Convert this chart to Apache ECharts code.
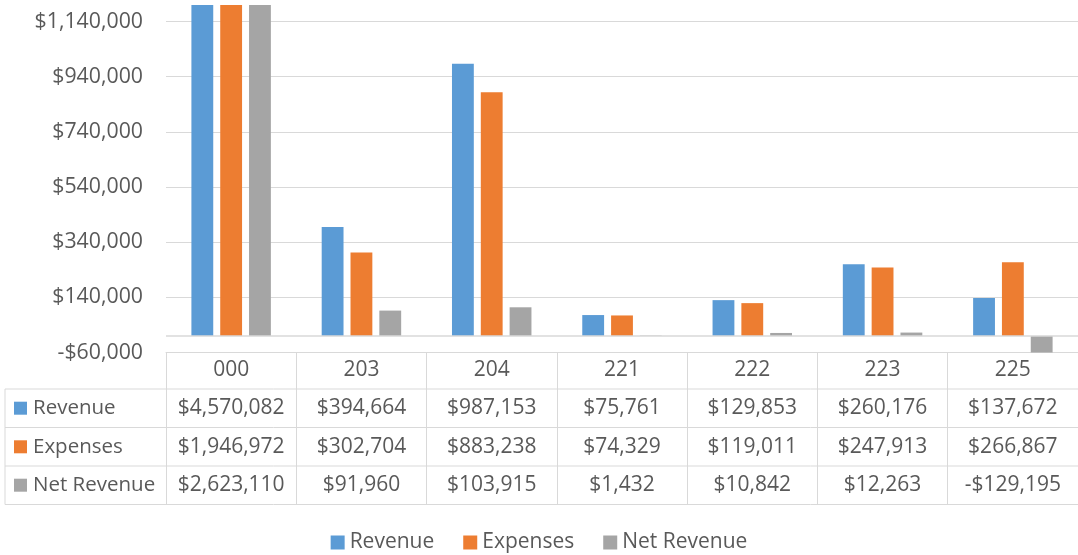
<!DOCTYPE html>
<html><head><meta charset="utf-8">
<script src="https://cdn.jsdelivr.net/npm/echarts@6/dist/echarts.min.js"></script>
<style>html,body{margin:0;padding:0;background:#fff}#c{width:1078px;height:555px}</style>
</head><body><div id="c"></div>
<script>
const categories = ['000','203','204','221','222','223','225'];
const seriesNames = ['Revenue','Expenses','Net Revenue'];
const revenue = [4570082,394664,987153,75761,129853,260176,137672];
const expenses = [1946972,302704,883238,74329,119011,247913,266867];
const netRevenue = [2623110,91960,103915,1432,10842,12263,-129195];
const seriesData = [revenue, expenses, netRevenue];
const colors = ['#5B9BD5','#ED7D31','#A5A5A5'];
const yMin = -60000, yMax = 1200000, yInterval = 200000;

function money(v){ const s = '$' + Math.abs(v).toLocaleString('en-US'); return v < 0 ? '-' + s : s; }

const FONT = 'Open Sans';
const TXT = '#595959';
const LINE = '#d9d9d9';
const NUM_SIZE = 21, TXT_SIZE = 20.5;
const GL = 166, GT = 5, GW = 917, GH = 347.5;
const tableTop = GT + GH;
const rowLines = [389, 427.5, 466, 504.5];
const rowCenters = [408.2, 446.8, 485.2];

const chart = echarts.init(document.getElementById('c'));

const xAxes = [{
  type: 'category', data: categories, position: 'bottom', gridIndex: 0,
  axisLine: { onZero: false, lineStyle: { color: LINE, width: 1 } },
  axisTick: { show: true, length: rowLines[3] - tableTop, lineStyle: { color: LINE } },
  axisLabel: { interval: 0, margin: 18, verticalAlign: 'middle', color: TXT, fontSize: NUM_SIZE, fontFamily: FONT }
}];
seriesData.forEach((arr, k) => {
  xAxes.push({
    type: 'category', data: categories, position: 'bottom', gridIndex: 0, offset: 0,
    axisLine: { show: false, onZero: false }, axisTick: { show: false }, splitLine: { show: false },
    axisLabel: { interval: 0, margin: rowCenters[k] - tableTop, verticalAlign: 'middle', color: TXT, fontSize: NUM_SIZE, fontFamily: FONT,
      formatter: (v, i) => money(arr[i]) }
  });
});

const graphics = [];
rowLines.forEach(y => graphics.push({ type: 'line', shape: { x1: 5, y1: y, x2: GL + GW, y2: y }, style: { stroke: LINE, lineWidth: 1 }, silent: true }));
graphics.push({ type: 'line', shape: { x1: 5, y1: rowLines[0], x2: 5, y2: rowLines[3] }, style: { stroke: LINE, lineWidth: 1 }, silent: true });
seriesNames.forEach((n, k) => {
  graphics.push({ type: 'rect', shape: { x: 14, y: rowCenters[k] - 6.5, width: 13, height: 13 }, style: { fill: colors[k] }, silent: true });
  graphics.push({ type: 'text', x: 33, y: rowCenters[k], style: { text: n, fill: TXT, font: TXT_SIZE + 'px "' + FONT + '"', textVerticalAlign: 'middle', verticalAlign: 'middle' }, silent: true });
});

const splitColors = [];
for (let i = 0; i < 7; i++) splitColors.push(LINE);
splitColors.push('rgba(0,0,0,0)');

const option = {
  animation: false,
  textStyle: { fontFamily: FONT },
  color: colors,
  grid: { left: GL, top: GT, width: GW, height: GH, containLabel: false },
  legend: {
    data: seriesNames, left: 'center', top: 527, icon: 'rect', itemWidth: 14, itemHeight: 14, itemGap: 29,
    textStyle: { color: TXT, fontSize: 21, fontFamily: FONT }
  },
  xAxis: xAxes,
  yAxis: {
    type: 'value', min: yMin, max: yMax, interval: yInterval,
    axisLine: { show: false }, axisTick: { show: false },
    splitLine: { show: true, lineStyle: { color: splitColors, width: 1 } },
    axisLabel: { margin: 23, color: TXT, fontSize: 21.3, fontFamily: FONT, showMaxLabel: false, formatter: v => money(v) }
  },
  graphic: graphics,
  series: seriesNames.map((n, k) => ({
    name: n, type: 'bar', xAxisIndex: 0, data: seriesData[k],
    barCategoryGap: '39%', barGap: '32%', clip: true,
    itemStyle: { color: colors[k] },
    markLine: k === seriesNames.length - 1 ? { silent: true, symbol: 'none', label: { show: false },
      lineStyle: { color: LINE, type: 'solid', width: 1.5 }, data: [{ yAxis: 0 }] } : undefined
  }))
};
chart.setOption(option);
</script></body></html>
